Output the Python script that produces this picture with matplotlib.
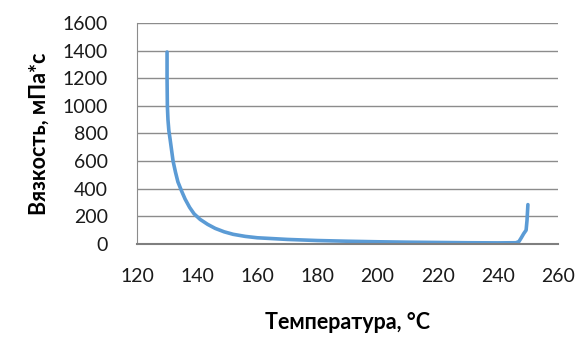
import matplotlib
matplotlib.use("Agg")
import numpy as np
import matplotlib.pyplot as plt

# temperature (°C) and viscosity (mPa*s)
temperature = [130.0, 130.0, 130.1, 130.3, 130.6, 131.0, 131.5, 132.0, 132.8, 133.6,
               134.8, 136.0, 137.5, 139.0, 141.0, 143.5, 146.0, 149.0, 152.0, 156.0,
               160.0, 170.0, 180.0, 190.0, 200.0, 210.0, 220.0, 230.0, 240.0, 246.0,
               247.0, 247.8, 248.6, 249.4, 249.7, 250.0]
viscosity = [1390, 1200, 1000, 900, 820, 760, 680, 600, 520, 450,
             385, 325, 265, 218, 178, 142, 113, 88, 70, 55,
             45, 33, 25, 20, 16, 13, 11, 9, 8, 9,
             17, 45, 75, 100, 170, 285]

x_ticks = [120, 140, 160, 180, 200, 220, 240, 260]
y_ticks = [0, 200, 400, 600, 800, 1000, 1200, 1400, 1600]

plt.rcParams['font.family'] = ['Lato', 'DejaVu Sans']

fig = plt.figure(figsize=(5.79, 3.45), dpi=100)
ax = fig.add_axes([0.2366, 0.2928, 0.7271, 0.6405])

ax.plot(temperature, viscosity, color='#5B9BD5', linewidth=2.6, solid_capstyle='round')

ax.set_xlim(120, 260)
ax.set_ylim(0, 1600)
ax.set_xticks(x_ticks)
ax.set_yticks(y_ticks)
ax.tick_params(axis='both', length=0, labelsize=14, colors='#1a1a1a')
ax.tick_params(axis='x', pad=17)
ax.tick_params(axis='y', pad=21)

ax.grid(axis='y', color='#8c8c8c', linewidth=1)
ax.set_axisbelow(True)
for side in ['top', 'right']:
    ax.spines[side].set_visible(False)
ax.spines['left'].set_color('#8c8c8c')
ax.spines['bottom'].set_color('#7f7f7f')
ax.spines['bottom'].set_linewidth(1.5)

ax.set_xlabel('Температура, °С', fontsize=15.5, fontweight='bold', labelpad=20)
ax.set_ylabel('Вязкость, мПа*с', fontsize=15.5, fontweight='bold', labelpad=9)

fig.savefig('out.png', dpi=100)
